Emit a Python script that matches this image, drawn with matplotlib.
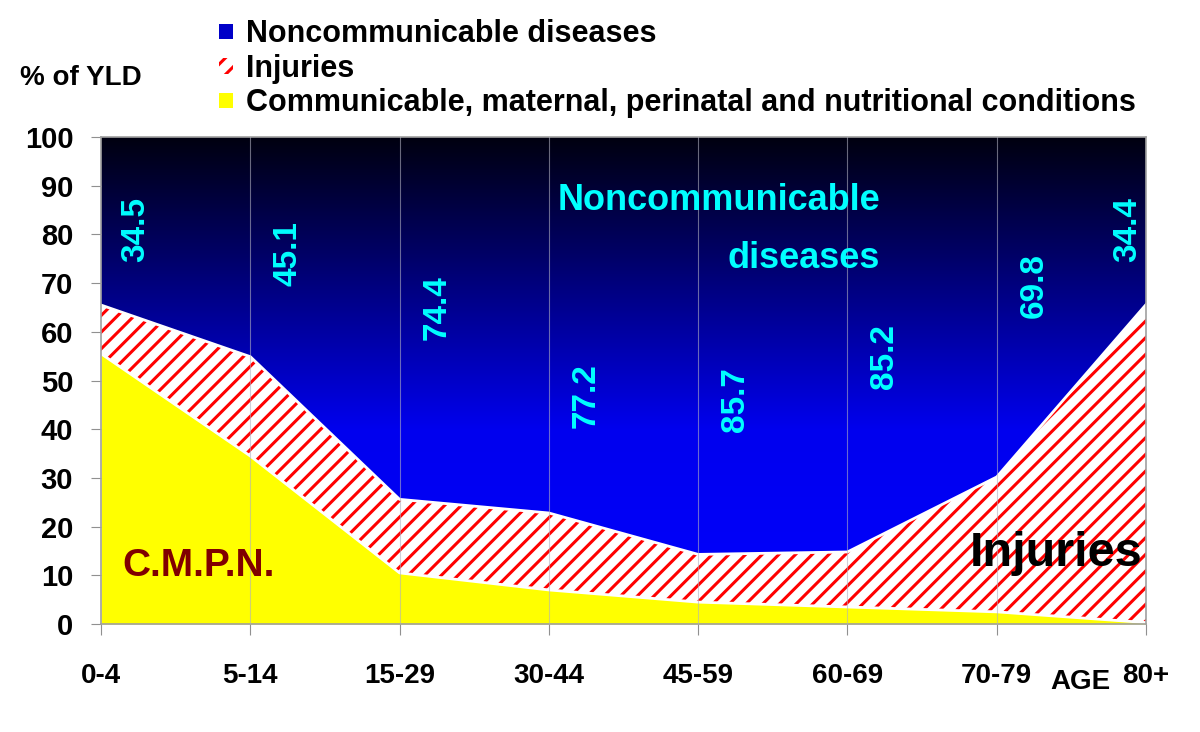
import numpy as np
import matplotlib
matplotlib.use("Agg")
import matplotlib.pyplot as plt
from matplotlib.colors import LinearSegmentedColormap
from matplotlib.patches import Patch

# ─── DATA ────────────────────────────────────────────────────────────────────
age_groups = ['0-4', '5-14', '15-29', '30-44', '45-59', '60-69', '70-79', '80+']
cmpn      = [55.5, 34.5, 10.5, 7.0, 4.5, 3.5, 2.5, 0.3]
injuries  = [10.0, 20.4, 15.1, 15.8, 9.8, 11.3, 27.7, 65.3]
ncd       = [34.5, 45.1, 74.4, 77.2, 85.7, 85.2, 69.8, 34.4]
ncd_label_y = [81, 76, 65, 47, 46, 55, 69.5, 81]   # where the % labels sit

plt.rcParams['font.family'] = ['Liberation Sans', 'DejaVu Sans']
plt.rcParams['hatch.linewidth'] = 2.2

x = np.arange(len(age_groups))
y1 = np.array(cmpn)
y2 = y1 + np.array(injuries)
y3 = np.full(len(x), 100.0)

fig = plt.figure(figsize=(12, 7.32), dpi=100)
ax = fig.add_axes([0.0842, 0.1475, 0.8708, 0.6653])

# CMPN
ax.fill_between(x, 0, y1, color='#ffff00', linewidth=0, zorder=1)
# injuries (hatched)
ax.fill_between(x, y1, y2, facecolor='white', edgecolor='#ff0000',
                hatch='//', linewidth=0, zorder=1)
# NCD with black -> blue gradient
ncd_poly = ax.fill_between(x, y2, y3, color='none', linewidth=0, zorder=1)
cmap = LinearSegmentedColormap.from_list('ncd', [(0, '#0000ff'), (0.4, '#0000ee'),
                                                 (0.75, '#00006a'), (1.0, '#000010')])
grad = np.linspace(0, 1, 256).reshape(-1, 1)
img = ax.imshow(grad, cmap=cmap, origin='lower', aspect='auto',
                extent=[x[0], x[-1], 0, 100], zorder=1)
img.set_clip_path(ncd_poly.get_paths()[0], transform=ax.transData)

# white separator lines
ax.plot(x, y1, color='white', lw=2, zorder=2)
ax.plot(x, y2, color='white', lw=2, zorder=2)

# vertical grid
for xi in x[1:-1]:
    ax.axvline(xi, color='#b0b0c0', lw=0.8, alpha=0.6, zorder=3)

ax.set_xlim(x[0], x[-1])
ax.set_ylim(0, 100)
ax.set_yticks(range(0, 101, 10))
ax.set_yticklabels([str(v) for v in range(0, 101, 10)], fontsize=21, fontweight='bold')
ax.set_xticks(x)
ax.set_xticklabels(age_groups, fontsize=20, fontweight='bold')
ax.tick_params(axis='y', length=7, color='#909090', pad=13)
ax.tick_params(axis='x', length=8, color='#909090', pad=20)
for s in ['left', 'bottom', 'right', 'top']:
    ax.spines[s].set_color('#a0a0a0')
    ax.spines[s].set_linewidth(1.2)

# value labels in the NCD area
for xi, v, ly in zip(x, ncd, ncd_label_y):
    xo = 0.23 if xi == 0 else (-0.12 if xi == x[-1] else 0.25)
    ax.text(xi + xo, ly, f'{v}', rotation=90, color='#00ffff', fontsize=24,
            fontweight='bold', ha='center', va='center', zorder=4)

ax.text(5.22, 85.0, 'Noncommunicable', color='#00ffff', fontsize=26, fontweight='bold',
        ha='right', va='baseline', zorder=4)
ax.text(5.22, 73.1, 'diseases', color='#00ffff', fontsize=26, fontweight='bold',
        ha='right', va='baseline', zorder=4)
ax.text(6.40, 11.9, 'Injuries', color='black', fontsize=35, fontweight='bold',
        ha='center', va='baseline', zorder=4)
ax.text(0.65, 12, 'C.M.P.N.', color='#800000', fontsize=28, fontweight='bold',
        ha='center', va='center', zorder=4)

fig.text(0.067, 0.893, '% of YLD', fontsize=20, fontweight='bold', ha='center', va='center')
fig.text(0.9, 0.068, 'AGE', fontsize=20, fontweight='bold', ha='center', va='center')

handles = [Patch(facecolor='#0000c8', edgecolor='none'),
           Patch(facecolor='white', edgecolor='#ff0000', hatch='//', linewidth=0),
           Patch(facecolor='#ffff00', edgecolor='none')]
labels = ['Noncommunicable diseases', 'Injuries',
          'Communicable, maternal, perinatal and nutritional conditions']
fig.legend(handles, labels, loc='upper left', bbox_to_anchor=(0.1645, 1.003),
           frameon=False, prop={'weight': 'bold', 'size': 22},
           handlelength=0.46, handleheight=0.4, handletextpad=0.42, labelspacing=0.15,
           borderaxespad=0.3)

fig.savefig('out.png', dpi=100)
